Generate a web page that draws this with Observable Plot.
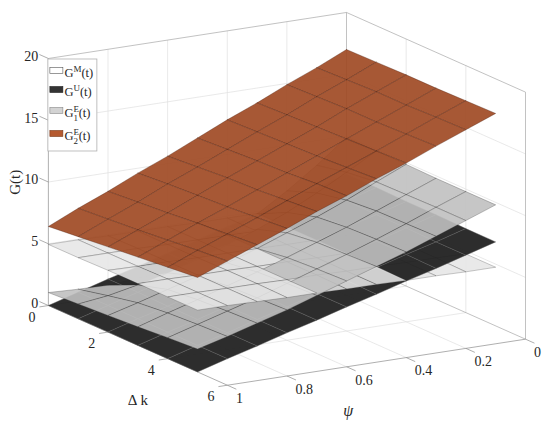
<!DOCTYPE html>
<html><head><meta charset="utf-8">
<script src="https://cdn.jsdelivr.net/npm/d3@7"></script>
<script src="https://cdn.jsdelivr.net/npm/@observablehq/plot@0.6"></script>
<style>body{margin:0;background:#fff} svg{display:block}</style>
</head><body><div id="chart"></div>
<script>
// ---------- data ----------
const psi = [0, 0.1, 0.2, 0.3, 0.4, 0.5, 0.6, 0.7, 0.8, 0.9, 1];
const dk = [0, 1, 2, 3, 4, 5];
const psiTicks = [0, 0.2, 0.4, 0.6, 0.8, 1];
const dkTicks = [0, 2, 4, 6];
const gTicks = [0, 5, 10, 15, 20];
// rows: Δk = 0..5, columns: ψ = 0..1
const GM = [
  [4.8, 4.8, 4.8, 4.85, 4.85, 4.85, 4.9, 4.9, 4.9, 4.95, 4.95],
  [4.8, 4.8, 4.8, 4.85, 4.85, 4.9, 4.9, 4.9, 4.95, 4.95, 4.95],
  [4.8, 4.8, 4.8, 4.85, 4.85, 4.9, 4.9, 4.9, 4.95, 4.95, 5.0],
  [4.75, 4.8, 4.8, 4.85, 4.85, 4.9, 4.9, 4.95, 4.95, 5.0, 5.0],
  [4.75, 4.8, 4.8, 4.85, 4.85, 4.9, 4.9, 4.95, 4.95, 5.0, 5.0],
  [4.75, 4.75, 4.8, 4.8, 4.85, 4.85, 4.9, 4.9, 4.95, 5.0, 5.0]
];
const GU = [
  [6.9, 6.2, 5.5, 4.8, 4.15, 3.45, 2.75, 2.05, 1.4, 0.7, 0],
  [6.9, 6.2, 5.5, 4.8, 4.1, 3.45, 2.75, 2.05, 1.4, 0.7, 0],
  [6.85, 6.15, 5.5, 4.8, 4.1, 3.4, 2.75, 2.05, 1.35, 0.7, 0],
  [6.85, 6.15, 5.45, 4.8, 4.1, 3.4, 2.75, 2.05, 1.35, 0.7, 0],
  [6.8, 6.1, 5.45, 4.75, 4.1, 3.4, 2.7, 2.05, 1.35, 0.7, 0],
  [6.8, 6.1, 5.4, 4.75, 4.05, 3.4, 2.7, 2.05, 1.35, 0.7, 0]
];
const G1E = [
  [9.9, 8.0, 6.3, 4.8, 3.5, 2.4, 1.6, 1.1, 0.9, 0.95, 1.05],
  [9.85, 8.5, 7.2, 6.0, 5.0, 4.1, 3.3, 2.6, 2.0, 1.5, 1.2],
  [9.85, 8.8, 7.7, 6.7, 5.8, 4.9, 4.1, 3.4, 2.7, 2.0, 1.35],
  [9.8, 8.85, 7.9, 6.95, 6.1, 5.25, 4.45, 3.7, 2.95, 2.25, 1.5],
  [9.8, 8.9, 7.95, 7.05, 6.2, 5.4, 4.6, 3.8, 3.1, 2.4, 1.7],
  [9.8, 8.9, 8.0, 7.1, 6.3, 5.5, 4.7, 3.9, 3.2, 2.5, 1.85]
];
const G2E = [
  [17.0, 15.9, 14.9, 13.8, 12.8, 11.7, 10.6, 9.6, 8.5, 7.5, 6.4],
  [17.05, 16.0, 15.0, 13.9, 12.9, 11.85, 10.8, 9.8, 8.7, 7.7, 6.65],
  [17.1, 16.1, 15.1, 14.0, 13.0, 12.0, 11.0, 9.95, 8.9, 7.9, 6.9],
  [17.1, 16.1, 15.1, 14.1, 13.1, 12.1, 11.1, 10.1, 9.15, 8.15, 7.15],
  [17.15, 16.2, 15.2, 14.2, 13.25, 12.3, 11.3, 10.3, 9.35, 8.4, 7.4],
  [17.2, 16.25, 15.3, 14.3, 13.4, 12.4, 11.5, 10.5, 9.55, 8.6, 7.65]
];

// ---------- view (orthographic camera) ----------
const W = 550, H = 425;
const psiDom = [0, 1], dkDom = [0, 6], gDom = [0, 20];
const az = 30.5 * Math.PI / 180, el = 15.2 * Math.PI / 180;
const L = {x: 346, y: 352.7, z: 256};
const anchor = {x: 346, y: 259}; // screen point of the back-bottom corner
function project(p, k, g) {
  const X = (p - psiDom[0]) / (psiDom[1] - psiDom[0]);
  const Y = (k - dkDom[0]) / (dkDom[1] - dkDom[0]);
  const Z = (g - gDom[0]) / (gDom[1] - gDom[0]);
  const h = -X * L.x * Math.cos(az) + Y * L.y * Math.sin(az);
  const v = -X * L.x * Math.sin(az) * Math.sin(el) - Y * L.y * Math.cos(az) * Math.sin(el) + Z * L.z * Math.cos(el);
  return {x: anchor.x + h, y: anchor.y - v};
}
function nearness(p, k, g) {
  const X = p, Y = k / 6, Z = g / 20;
  return X * L.x * Math.sin(az) * Math.cos(el) + Y * L.y * Math.cos(az) * Math.cos(el) + Z * L.z * Math.sin(el);
}

// ---------- surfaces ----------
const surfaces = [
  {values: GM,  fill: "rgba(230,230,230,0.88)", stroke: "rgba(60,60,60,0.55)"},
  {values: GU,  fill: "rgba(34,34,34,0.95)",   stroke: "rgba(95,95,95,0.8)"},
  {values: G1E, fill: "rgba(192,192,192,0.9)", stroke: "rgba(55,55,55,0.6)"},
  {values: G2E, fill: "rgba(160,74,36,0.92)",  stroke: "rgba(70,26,8,0.65)"}
];
const cells = [];
surfaces.forEach(s => {
  for (let i = 0; i < dk.length - 1; i++) for (let j = 0; j < psi.length - 1; j++) {
    const corners = [[j, i], [j + 1, i], [j + 1, i + 1], [j, i + 1]]
      .map(([a, b]) => ({p: psi[a], k: dk[b], g: s.values[b][a]}));
    cells.push({s, corners, near: d3.mean(corners, c => nearness(c.p, c.k, c.g))});
  }
});
cells.sort((a, b) => a.near - b.near);
const cellRows = cells.flatMap((c, id) =>
  [...c.corners, c.corners[0]].map(q => ({id, ...project(q.p, q.k, q.g), fill: c.s.fill, stroke: c.s.stroke})));

// ---------- box, walls, axes ----------
const seg = (a, b) => { const A = project(...a), B = project(...b); return {x1: A.x, y1: A.y, x2: B.x, y2: B.y}; };
const [p0, p1] = psiDom, [k0, k1] = dkDom, [g0, g1] = gDom;
const inner = (arr, lo, hi) => arr.filter(v => v > lo && v < hi);
const grid = [
  ...inner(psiTicks, p0, p1).map(p => seg([p, k0, g0], [p, k0, g1])),
  ...inner(gTicks, g0, g1).map(g => seg([p1, k0, g], [p0, k0, g])),
  ...inner(dkTicks, k0, k1).map(k => seg([p0, k, g0], [p0, k, g1])),
  ...inner(gTicks, g0, g1).map(g => seg([p0, k0, g], [p0, k1, g])),
  ...inner(psiTicks, p0, p1).map(p => seg([p, k0, g0], [p, k1, g0])),
  ...inner(dkTicks, k0, k1).map(k => seg([p1, k, g0], [p0, k, g0]))
];
const boxEdges = [
  seg([p1, k0, g1], [p0, k0, g1]), seg([p0, k0, g1], [p0, k1, g1]),
  seg([p0, k0, g0], [p0, k0, g1]), seg([p0, k1, g0], [p0, k1, g1]),
  seg([p1, k0, g0], [p0, k0, g0]), seg([p0, k0, g0], [p0, k1, g0])
];
const axes = [
  seg([p1, k0, g0], [p1, k0, g1]),
  seg([p1, k0, g0], [p1, k1, g0]),
  seg([p1, k1, g0], [p0, k1, g0]),
  ...gTicks.map(g => seg([p1, k0, g], [p1, k0 - 0.3, g])),
  ...dkTicks.map(k => seg([p1, k, g0], [p1 + 0.03, k, g0])),
  ...psiTicks.map(p => seg([p, k1, g0], [p, k1 + 0.3, g0]))
];
const gLab = gTicks.map(g => ({...project(p1, k0 - 0.34, g - 0.2), t: String(g)}));
const dkLab = dkTicks.map(k => ({...project(p1 + 0.055, k, -0.73), t: String(k)}));
const psiLab = psiTicks.map(p => ({...project(p, k1 + 0.285, -0.77), t: String(p)}));
const gTitle = project(p1, k0 - 1.1, 8.8);
const dkTitle = project(p1, 3, -4.45);
const psiTitle = project(0.595, k1, -3.6);

const font = "'Liberation Serif', 'Times New Roman', serif";
const plot = Plot.plot({
  width: W, height: H, margin: 0,
  x: {domain: [0, W], range: [0, W], axis: null},
  y: {domain: [0, H], range: [0, H], axis: null},
  style: {fontFamily: font, fontSize: "14px", background: "#fff", color: "#262626"},
  marks: [
    Plot.link(grid, {x1: "x1", y1: "y1", x2: "x2", y2: "y2", stroke: "#e0e0e0", strokeWidth: 0.7}),
    Plot.link(boxEdges, {x1: "x1", y1: "y1", x2: "x2", y2: "y2", stroke: "#a8a8a8", strokeWidth: 0.7}),
    Plot.link(axes, {x1: "x1", y1: "y1", x2: "x2", y2: "y2", stroke: "#8c8c8c", strokeWidth: 0.7}),
    Plot.line(cellRows, {x: "x", y: "y", z: "id", fill: "fill", stroke: "stroke", strokeWidth: 0.5, curve: "linear"}),
    Plot.text(gLab, {x: "x", y: "y", text: "t", textAnchor: "end", fill: "#262626"}),
    Plot.text(dkLab, {x: "x", y: "y", text: "t", textAnchor: "middle", fill: "#262626"}),
    Plot.text(psiLab, {x: "x", y: "y", text: "t", textAnchor: "start", fill: "#262626"}),
    Plot.text([gTitle], {x: "x", y: "y", text: () => "G(t)", rotate: -90, fontSize: 15, fill: "#262626"}),
    Plot.text([dkTitle], {x: "x", y: "y", text: () => "Δ k", fontSize: 15, fill: "#262626"}),
    Plot.text([psiTitle], {x: "x", y: "y", text: () => "ψ", fontSize: 16, fontStyle: "italic", fill: "#262626"})
  ]
});
document.getElementById("chart").appendChild(plot);

// ---------- legend ----------
const legendItems = [
  {sup: "M", sub: null, fill: "#ffffff", stroke: "#555"},
  {sup: "U", sub: null, fill: "#333333", stroke: "#222"},
  {sup: "E", sub: "1", fill: "#d3d3d3", stroke: "#888"},
  {sup: "E", sub: "2", fill: "#b55a30", stroke: "#7a3a1a"}
];
const legendBaselines = [18, 37, 58, 81];
const corner = project(p1, k0, g1);
const svg = d3.select(plot);
const lg = svg.append("g").attr("transform", `translate(${corner.x},${corner.y + 1})`)
  .attr("font-family", font).attr("fill", "#262626").attr("text-anchor", "start");
lg.append("rect").attr("x", 0).attr("y", 0).attr("width", 49).attr("height", 92)
  .attr("fill", "#fff").attr("stroke", "#b0b0b0").attr("stroke-width", 0.8);
legendItems.forEach((it, i) => {
  const b = legendBaselines[i];
  lg.append("rect").attr("x", 2).attr("y", b - 9.5).attr("width", 13).attr("height", 6)
    .attr("fill", it.fill).attr("stroke", it.stroke).attr("stroke-width", 0.6);
  const t = lg.append("text").attr("x", 16.5).attr("y", b).attr("font-size", 12.5)
    .attr("text-anchor", "start");
  t.append("tspan").text("G");
  t.append("tspan").attr("font-size", 9).attr("dy", -5).text(it.sup);
  if (it.sub) {
    t.append("tspan").attr("font-size", 9).attr("dx", -5.5).attr("dy", 9).text(it.sub);
    t.append("tspan").attr("dx", 0.8).attr("dy", -4).text("(t)");
  } else {
    t.append("tspan").attr("dy", 5).text("(t)");
  }
});
</script>
</body></html>
